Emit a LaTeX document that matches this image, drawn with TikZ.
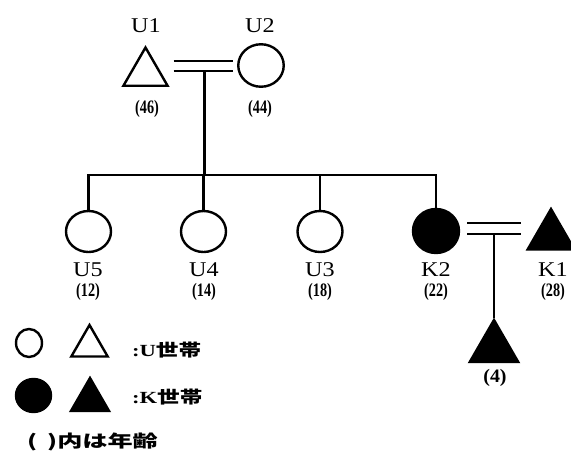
\documentclass[tikz,border=0pt]{standalone}
\usepackage{fontspec}
\usepackage{graphicx}
\setmainfont{Liberation Serif}
\newfontfamily\cjk{Noto Sans CJK JP}
\usetikzlibrary{shapes.geometric,calc}
\newcommand\pname[1]{\scalebox{1.15}[1]{#1}}
\newcommand\pAge[1]{\scalebox{0.75}[1]{\bfseries(#1)}}
\newcommand\legtext[1]{\scalebox{1.33}[1]{\bfseries #1}}
\begin{document}
\begin{tikzpicture}[x=1pt,y=-1pt,line width=2.2pt,
  person/.style={ellipse,draw,line width=2.4pt,inner sep=0pt,minimum width=45pt,minimum height=41pt},
  male/.style={regular polygon,regular polygon sides=3,draw,line width=2.4pt,inner sep=0pt,minimum size=51pt},
  kfill/.style={fill=black},
  pname/.style={inner sep=0pt,font=\fontsize{21}{21}\selectfont},
  page/.style={inner sep=0pt,font=\fontsize{19}{19}\selectfont},
  legend/.style={inner sep=0pt,anchor=west,font=\fontsize{17}{17}\selectfont}]
\useasboundingbox (0,0) rectangle (571,455);
% parents
\node[male] (U1) at (145.5,73) {};
\node[person,minimum width=45.5pt,minimum height=42.5pt] (U2) at (261,65.5) {};
\node[pname] (tU1) at (146,26) {\pname{U1}};
\node[pname] (tU2) at (260,26) {\pname{U2}};
\node[page] (aU1) at (147,109) {\pAge{46}};
\node[page] (aU2) at (260,109) {\pAge{44}};
% marriage U
\coordinate (mU) at (204.5,66);
\draw ($(mU)+(-31,-5)$) -- ($(mU)+(28,-5)$);
\draw ($(mU)+(-31,5)$) -- ($(mU)+(28,5)$);
\coordinate (bar) at (204.5,175);
% children
\node[person] (U5) at (88.5,231.5) {};
\node[person] (U4) at (203.5,231.5) {};
\node[person] (U3) at (320,231.5) {};
\node[person,kfill,minimum width=46pt,minimum height=44pt] (K2) at (436,231) {};
\node[male,kfill,minimum size=54pt] (K1) at (551,236) {};
\draw ($(mU)+(0,5)$) -- (bar);
\draw (U5.north) -- (U5.north |- bar) -- (K2.north |- bar) -- (K2.north);
\draw (U4.north) -- (U4.north |- bar);
\draw (U3.north) -- (U3.north |- bar);
\node[pname] (tU5) at (88,270) {\pname{U5}};
\node[pname] (tU4) at (204,270) {\pname{U4}};
\node[pname] (tU3) at (320,270) {\pname{U3}};
\node[pname] (tK2) at (436,270) {\pname{K2}};
\node[pname] (tK1) at (553,270) {\pname{K1}};
\node[page] (aU5) at (88,292) {\pAge{12}};
\node[page] (aU4) at (204,292) {\pAge{14}};
\node[page] (aU3) at (320,292) {\pAge{18}};
\node[page] (aK2) at (436,292) {\pAge{22}};
\node[page] (aK1) at (553,292) {\pAge{28}};
% marriage K
\coordinate (mK) at (494,228.5);
\draw ($(mK)+(-27,-5.5)$) -- ($(mK)+(27,-5.5)$);
\draw ($(mK)+(-27,5.5)$) -- ($(mK)+(27,5.5)$);
\node[male,kfill,minimum size=56pt] (C) at (494,348) {};
\draw ($(mK)+(0,5.5)$) -- (C.north);
\node[page] (aC) at (495,378) {\scalebox{1.05}[1]{\bfseries(4)}};
% legend
\node[person,minimum width=26pt,minimum height=28pt] (LUc) at (29,343) {};
\node[male,minimum size=42pt] (LUt) at (89.5,346) {};
\node[person,kfill,minimum width=35pt,minimum height=33pt] (LKc) at (33.5,395.5) {};
\node[male,kfill,minimum size=44pt] (LKt) at (90,400) {};
\node[legend] (LUtx) at (131,350) {\legtext{:U{\cjk 世帯}}};
\node[legend] (LKtx) at (131,397) {\legtext{:K{\cjk 世帯}}};
\node[legend] (note) at (26,442) {\scalebox{1.48}[1]{\bfseries\cjk (\hspace{0.4em})内は年齢}};
\end{tikzpicture}
\end{document}
